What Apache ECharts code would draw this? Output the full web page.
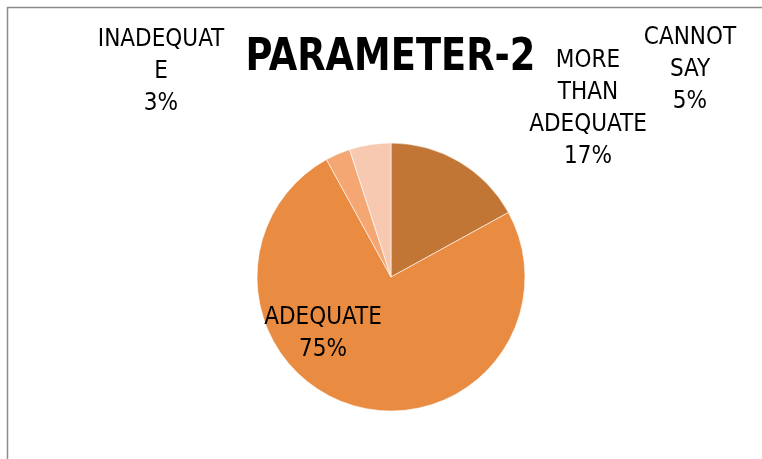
<!DOCTYPE html>
<html>
<head>
<meta charset="utf-8">
<script src="https://cdn.jsdelivr.net/npm/echarts@6/dist/echarts.min.js"></script>
<style>
  html, body { margin: 0; padding: 0; background: #fff; }
  #main { width: 762px; height: 459px; }
</style>
</head>
<body>
<div id="main"></div>
<script>
var categories = ['MORE\nTHAN\nADEQUATE', 'ADEQUATE', 'INADEQUAT\nE', 'CANNOT\nSAY'];
var values = [17, 75, 3, 5];
var colors = ['#C27636', '#E98C42', '#F4A673', '#F8C9B1'];
// where each label sits (Excel placed them by hand)
var labelPos = [[588, 109], [323, 334], [161, 72], [690, 70]];
var titleText = 'PARAMETER-2';

var font = '"Liberation Sans Narrow", "DejaVu Sans Condensed", "Arial Narrow", sans-serif';

var chart = echarts.init(document.getElementById('main'), null, { renderer: 'canvas' });

var pieData = [];
for (var i = 0; i < categories.length; i++) {
  pieData.push({ name: categories[i], value: values[i], itemStyle: { color: colors[i] } });
}

var option = {
  animation: false,
  backgroundColor: '#fff',
  graphic: [{
    type: 'rect',
    shape: { x: 7.5, y: 7.5, width: 900, height: 600 },
    style: { fill: null, stroke: '#8c8c8c', lineWidth: 1.5 },
    silent: true
  }, {
    // narrow bold title, squeezed a little like Arial Narrow
    type: 'text',
    x: 390.5,
    y: 59,
    scaleX: 0.93,
    style: {
      text: titleText,
      font: 'bold 44px ' + font,
      fill: '#000',
      align: 'center',
      verticalAlign: 'middle'
    },
    silent: true
  }],
  series: [{
    type: 'pie',
    center: [391, 277],
    radius: 134,
    startAngle: 90,
    clockwise: true,
    data: pieData,
    itemStyle: { borderColor: '#fff', borderWidth: 0.6 },
    label: {
      show: true,
      formatter: function (p) { return p.name + '\n' + p.value + '%'; },
      fontFamily: font,
      fontSize: 24,
      lineHeight: 32,
      color: '#000',
      align: 'center'
    },
    labelLine: { show: false },
    labelLayout: function (params) {
      var pos = labelPos[params.dataIndex];
      return { x: pos[0], y: pos[1], align: 'center', verticalAlign: 'middle', hideOverlap: false };
    }
  }]
};

chart.setOption(option);
</script>
</body>
</html>
